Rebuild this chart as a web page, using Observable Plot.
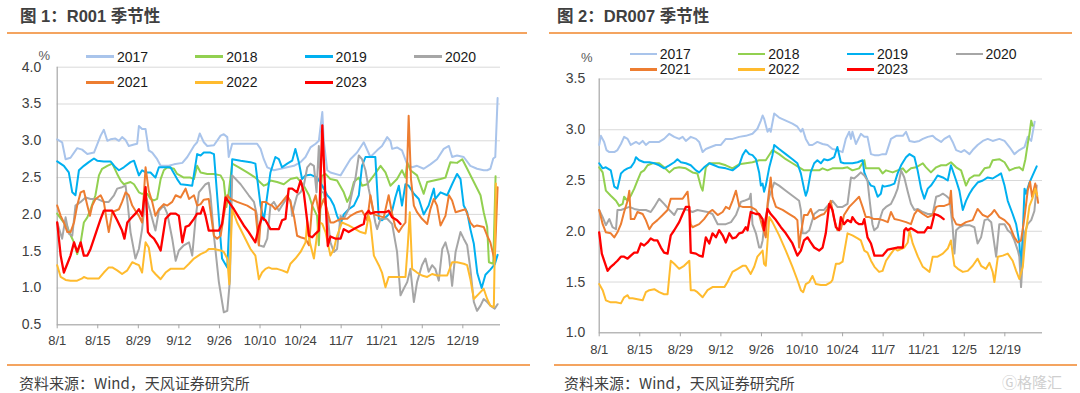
<!DOCTYPE html>
<html><head><meta charset="utf-8">
<script src="https://cdn.jsdelivr.net/npm/d3@7"></script>
<script src="https://cdn.jsdelivr.net/npm/@observablehq/plot@0.6"></script>
<style>
body{margin:0;background:#fff;}
#root{position:relative;width:1080px;height:393px;overflow:hidden;background:#fff;font-family:"Liberation Sans",Arial,"Noto Sans CJK SC",sans-serif;}
.title{position:absolute;top:5px;font-size:16.5px;font-weight:bold;color:#404040;line-height:22px;white-space:nowrap;font-family:"Liberation Sans",Arial,"Noto Sans CJK SC",sans-serif;}
.rule{position:absolute;height:2px;background:#f4a460;}
.foot{position:absolute;top:374px;font-size:15px;color:#404040;line-height:18px;white-space:nowrap;font-family:"Noto Sans CJK SC","Liberation Sans",sans-serif;}
.panel{position:absolute;top:0;}
.sw{position:absolute;height:2.5px;}
.lt{position:absolute;font-size:14px;color:#1a1a1a;line-height:16px;}
.pct{position:absolute;font-size:13px;color:#595959;line-height:14px;}
.wm{position:absolute;left:1002px;top:373px;font-size:15px;color:#cfcfcf;font-family:"Noto Sans CJK SC",sans-serif;line-height:18px;}
</style></head>
<body><div id="root"></div>
<script>
// ---------- data ----------
const xTickDays = [0,14,28,42,56,70,84,98,112,126,140];
const xTickLabels = ["8/1","8/15","8/29","9/12","9/26","10/10","10/24","11/7","11/21","12/5","12/19"];
const years = ["2017","2018","2019","2020","2021","2022","2023"];
const yearColors = ["#a9c4eb","#92d050","#00b0f0","#a6a6a6","#ed7d31","#ffbb2e","#ff0000"];
const r001Ticks = [0.5,1.0,1.5,2.0,2.5,3.0,3.5,4.0];
const dr007Ticks = [1.0,1.5,2.0,2.5,3.0,3.5];

// R001 (day offset from 8/1, %)
const r001_2017 = [[0,3.02],[1.7,2.98],[2.9,2.75],[4.6,2.77],[6.9,2.9],[8.6,2.88],[10.4,2.82],[12.7,2.84],[15,3.07],[16.1,3.15],[17.3,3.0],[18.4,3.02],[20.1,3.03],[21.3,3.0],[22.4,3.05],[23.6,3.01],[24.7,2.93],[26.5,2.95],[27.6,2.96],[28.2,3.2],[29.3,3.16],[30.5,3.16],[31.6,2.87],[32.8,2.84],[34.5,2.75],[35.7,2.66],[38.5,2.66],[40.3,2.68],[43.2,2.7],[44.9,2.78],[47.2,2.93],[48.3,2.98],[49.2,3.1],[50.6,2.98],[51.8,2.93],[54.1,2.94],[56.4,3.07],[57.5,3.09],[58.7,3.05],[59.2,2.78],[60.4,2.96],[62.7,2.96],[69,2.96],[70.2,2.89],[71.3,2.75],[72.5,2.64],[74.8,2.6],[77.1,2.62],[79.4,2.64],[81.7,2.66],[84,2.71],[85.7,2.78],[87.4,2.91],[89.2,2.96],[90.3,3.0],[91.5,3.39],[92,3.0],[93.2,2.6],[94.3,2.57],[97.8,2.53],[101.2,2.75],[103.5,2.84],[105.8,2.98],[108.1,2.78],[110.4,2.87],[112.1,2.93],[113.9,3.05],[115,3.0],[115.6,2.89],[117.3,2.91],[119,2.87],[120.8,2.68],[122.5,2.64],[124.2,2.66],[126.5,2.62],[128.8,2.68],[131.1,2.75],[133.4,2.89],[135.2,2.93],[136.3,2.78],[138,2.8],[140.3,2.78],[142.6,2.66],[144.9,2.62],[147.2,2.6],[148.4,2.6],[149.5,2.62],[150.5,2.76],[151.2,2.78],[152,3.58]];
const r001_2018 = [[0,2.01],[1.7,1.92],[3.5,1.83],[4.6,1.72],[5.8,1.62],[6.9,1.46],[8.1,1.62],[9.2,1.89],[10.4,1.96],[11.5,2.07],[13.2,2.26],[14.4,2.53],[15.5,2.62],[17.3,2.66],[19,2.69],[20.7,2.55],[21.9,2.46],[23,2.41],[25.3,2.44],[26.5,2.41],[28.2,2.3],[29.3,2.28],[31.1,2.28],[32.2,2.21],[33.4,2.19],[34.5,2.21],[35.7,2.48],[36.8,2.6],[38,2.64],[40.3,2.62],[41.4,2.55],[43.7,2.5],[46,2.5],[47.2,2.48],[48.3,2.66],[49.5,2.57],[51.8,2.55],[54.1,2.55],[56.4,2.53],[57.5,2.45],[58.4,2.1],[59.2,2.3],[60.4,2.69],[62.7,2.64],[65.6,2.57],[68.4,2.5],[70.2,2.43],[71.3,2.39],[72.5,2.41],[73.6,2.46],[75.9,2.44],[78.2,2.41],[80.5,2.48],[82.8,2.5],[85.1,2.39],[86.9,2.26],[88,2.12],[89.7,1.98],[90.3,1.58],[91.3,2.52],[92.6,2.55],[94.3,2.48],[96.6,2.46],[98.9,2.3],[100.1,2.17],[101.2,2.26],[102.4,2.44],[104.1,2.5],[105.2,2.39],[107,2.41],[109.3,2.53],[111.6,2.66],[113.3,2.57],[115,2.39],[117.3,2.48],[119,2.6],[120.2,2.5],[120.8,2.71],[121.9,2.6],[124.2,2.53],[126.5,2.28],[127.7,2.44],[130,2.46],[132.3,2.48],[134,2.5],[135.7,2.71],[138,2.7],[139.8,2.75],[141.5,2.62],[143.8,2.44],[146.1,2.26],[147.2,2.03],[148.4,1.83],[149,1.35],[150.5,1.33],[151.3,2.52]];
const r001_2019 = [[0,2.72],[2.3,2.66],[4,2.57],[5.2,2.3],[6.3,2.26],[7.5,2.6],[9.2,2.66],[10.9,2.71],[12.7,2.76],[13.8,2.73],[16.1,2.72],[18.4,2.72],[20.1,2.64],[21.3,2.6],[23,2.64],[25.3,2.71],[26.5,2.73],[28.2,2.53],[29.3,2.6],[30.5,2.57],[32.2,2.57],[33.9,2.5],[35.1,2.64],[36.8,2.64],[39.1,2.64],[41.4,2.48],[42.6,2.41],[44.9,2.4],[46.6,2.39],[48.3,2.82],[49.5,2.8],[50.6,2.84],[52.9,2.84],[54.1,2.82],[55.2,2.26],[56.9,1.4],[58.7,1.28],[60.4,2.75],[63.3,2.73],[66.7,2.71],[68.4,2.69],[70.2,2.12],[71.3,1.92],[72.5,2.26],[73.6,2.57],[75.3,2.78],[76.5,2.75],[77.6,2.64],[79.4,2.69],[81.1,2.73],[82.2,2.89],[83.4,2.71],[84.5,2.48],[85.7,2.53],[87.4,2.54],[89.7,2.5],[91.5,2.39],[93.2,2.26],[94.3,2.21],[95.5,2.12],[96.6,1.98],[97.8,1.87],[98.9,2.0],[100.6,2.07],[102.4,2.12],[104.1,2.26],[105.2,2.66],[106.4,2.78],[108.7,2.78],[109.8,2.78],[111,1.94],[112.1,1.92],[113.9,1.98],[115.6,2.05],[116.7,2.23],[117.9,2.39],[119,2.12],[120.2,2.41],[121.3,2.39],[123.1,2.28],[124.8,2.21],[126.5,2.0],[128.2,2.12],[130,2.35],[130.5,2.21],[132.3,2.3],[134.6,2.26],[136.3,2.41],[138,2.55],[139.2,2.48],[140.3,2.12],[141.5,2.03],[142.6,1.8],[143.8,1.6],[145,1.2],[146.5,1.0],[147.8,1.18],[149.5,1.25],[151,1.32],[152,1.45]];
const r001_2020 = [[0,1.89],[1.7,1.67],[2.9,1.96],[4,1.74],[5.2,1.71],[6.3,2.12],[8.1,2.17],[9.8,2.23],[11.5,2.21],[13.8,2.21],[16.1,2.17],[17.8,2.17],[19.6,2.26],[20.7,2.35],[22.4,2.37],[23.6,2.39],[24.4,2.12],[25.3,1.76],[27,1.4],[28.2,1.53],[29.3,1.8],[30.5,2.26],[32.2,2.03],[33.9,1.78],[35.1,2.05],[36.8,2.12],[38,2.01],[39.7,1.67],[40.9,1.37],[42,1.51],[43.7,1.58],[45.5,1.62],[46.6,1.44],[47.8,1.96],[48.9,2.3],[51.2,2.41],[52.3,2.43],[52.9,2.26],[54.1,1.71],[55.8,1.08],[57.5,0.67],[58.7,0.69],[59.6,1.1],[60.4,2.53],[63.3,2.41],[66.1,2.26],[67.9,2.17],[69,1.98],[69.6,1.58],[71.3,1.56],[72.5,1.67],[73.6,2.12],[74.8,2.17],[76.5,2.05],[77.6,2.12],[79.4,2.23],[80.5,2.19],[81.1,1.98],[81.7,2.1],[82.8,2.26],[84,2.3],[85.1,2.39],[86.3,2.64],[87.4,2.69],[88.6,2.66],[89.5,2.3],[90.3,2.93],[91,2.3],[92,2.3],[93.2,2.03],[94.3,1.62],[95.5,1.49],[96.6,1.53],[97.8,1.98],[98.9,1.94],[100.6,2.07],[101.8,2.3],[102.9,2.48],[104.1,2.8],[105.2,2.75],[106.4,2.6],[107.5,2.35],[108.7,2.12],[109.8,1.89],[110.4,1.8],[111.6,1.94],[113.9,1.94],[115.6,1.87],[117.3,1.49],[118.5,0.9],[119.6,0.99],[120.8,1.08],[121.9,1.26],[123.1,0.81],[124.2,1.08],[125.9,1.31],[127.1,1.4],[128.2,1.22],[129.4,1.31],[130.5,1.26],[131.7,1.1],[132.9,1.53],[134,1.62],[135.2,1.44],[136.3,1.03],[137.5,1.49],[139.2,1.76],[140.3,1.67],[141.5,1.58],[142.6,1.26],[143.8,0.81],[144.9,0.69],[146.1,0.76],[147.2,0.85],[148.4,0.81],[149.5,0.76],[151,0.72],[152,0.78]];
const r001_2021 = [[0,2.12],[1.2,1.98],[2.3,1.89],[3.5,1.76],[4.6,1.76],[5.8,1.89],[6.9,2.12],[8.1,2.3],[9.2,2.32],[10.4,2.12],[11.3,1.98],[12.1,2.12],[13.2,2.21],[15,2.26],[16.1,2.17],[17,1.94],[17.8,1.76],[19,2.03],[20.1,2.05],[21.3,2.07],[22.4,2.17],[23.6,2.3],[24.7,2.26],[25.9,2.12],[27,2.05],[28.2,1.98],[29.3,1.89],[30.5,2.64],[31.6,2.32],[32.8,2.17],[33.9,1.98],[35.1,2.07],[36.8,2.14],[38,2.12],[39.7,2.17],[40.9,2.26],[42.6,2.23],[44.3,2.35],[45.5,2.21],[47.2,2.26],[48.3,2.12],[49.5,2.14],[50.6,2.2],[52.3,2.21],[54.1,1.71],[55.2,1.67],[56.4,1.71],[57.5,1.98],[58.7,2.26],[59.8,2.21],[62.1,2.17],[65.6,2.12],[68.4,2.05],[69.6,1.58],[70.7,2.17],[71.9,2.17],[73,2.14],[74.2,2.12],[75.3,2.07],[76.5,2.12],[77.6,2.17],[79.4,2.26],[80.5,2.17],[81.7,1.98],[82.8,1.71],[84,1.69],[85.7,1.67],[86.9,1.58],[88,2.12],[89.2,2.26],[90.3,2.03],[92,2.21],[93.2,2.05],[94.3,1.89],[95.5,1.89],[97.8,1.94],[100.1,1.94],[101.2,1.98],[103.5,2.03],[105.2,2.05],[107,1.92],[108.1,2.26],[109.3,2.0],[111,1.98],[112.7,1.96],[114.4,2.26],[115.6,2.01],[116.7,1.83],[117.9,1.76],[119,1.83],[120.2,1.89],[121.3,3.34],[122.1,2.48],[123.1,2.12],[124.2,2.03],[125.9,1.94],[127.7,1.87],[128.8,2.07],[130,2.21],[131.1,2.12],[132.3,1.85],[134,1.98],[135.2,2.26],[136.3,2.19],[137.5,2.03],[139.2,2.05],[140.9,2.07],[142.6,1.89],[143.8,1.83],[144.9,1.85],[147.2,1.83],[148.4,1.71],[149.5,1.62],[151,1.37],[152,2.37]];
const r001_2022 = [[0,1.31],[1.2,1.15],[2.9,1.11],[4.6,1.1],[6.9,1.1],[8.6,1.13],[9.2,1.15],[10.4,1.13],[12.7,1.13],[14.4,1.13],[16.1,1.21],[17.8,1.28],[19,1.28],[20.7,1.24],[22.4,1.19],[24.2,1.24],[25.9,1.35],[27,1.33],[28.2,1.31],[29.3,1.21],[30.5,1.62],[31.6,1.55],[32.8,1.24],[33.9,1.19],[35.7,1.12],[37.4,1.21],[39.1,1.26],[41.4,1.26],[43.7,1.26],[45.5,1.33],[47.2,1.4],[49.5,1.46],[51.2,1.49],[52.3,1.53],[54.1,1.53],[56.4,1.51],[57.5,1.49],[58.7,1.4],[59.4,1.05],[60.4,2.07],[62.1,1.89],[64.4,1.71],[66.7,1.53],[68.4,1.44],[69.6,1.12],[70.7,1.21],[71.9,1.26],[73,1.28],[74.2,1.26],[75.9,1.26],[77.6,1.24],[79.4,1.21],[80.5,1.33],[82.2,1.4],[84,1.49],[85.7,1.62],[86.3,1.9],[86.9,1.67],[88.6,1.4],[90.3,1.9],[91.5,1.87],[92.6,1.76],[94.3,1.44],[95.5,1.53],[96.5,1.7],[98.3,1.89],[100.6,1.85],[102.9,1.8],[104.7,1.76],[106.4,1.74],[107.5,1.98],[108.1,1.89],[109.3,1.44],[111,1.31],[112.1,1.21],[113.3,1.01],[114.4,1.15],[116.2,1.15],[118.5,1.15],[120.2,1.15],[121,1.58],[121.7,2.03],[122.5,1.26],[124.2,1.21],[125.9,1.17],[127.7,1.15],[129.4,1.19],[131.1,1.17],[132.9,1.17],[134.6,1.17],[136.3,1.35],[138,1.35],[140.3,1.33],[141.5,1.31],[142.6,1.12],[143.8,0.85],[145.5,0.92],[147.2,0.99],[148.4,0.85],[149.5,0.76],[150.7,0.74],[151.4,2.42]];
const r001_2023 = [[0,1.89],[1.2,1.44],[2.3,1.21],[3.5,1.33],[4.6,1.44],[5.8,1.62],[6.9,1.49],[8.1,1.62],[9.2,1.44],[10.4,1.44],[11.5,1.53],[12.7,1.67],[13.8,1.8],[15,1.94],[16.1,2.05],[17.3,2.05],[19,2.05],[20.7,1.92],[22.4,1.78],[23.2,1.67],[24.2,1.89],[25.3,1.94],[27,2.01],[28.2,2.07],[29.3,1.98],[30.5,2.37],[31.3,1.76],[32.2,1.71],[33.4,1.67],[34.5,1.6],[35.7,1.51],[37.4,1.94],[39.1,2.01],[40.9,2.01],[42,1.98],[43.2,1.62],[44.3,1.83],[45.5,1.85],[47.2,1.94],[48.3,2.01],[49.5,2.01],[50.3,2.1],[51.2,1.98],[52.3,1.78],[54.1,1.78],[55.8,1.78],[56.9,1.87],[58.1,2.23],[59.2,2.17],[61,2.07],[62.7,1.96],[64.4,1.85],[66.1,1.76],[68.4,1.62],[69.6,1.83],[70.7,1.96],[71.9,1.92],[73.6,1.8],[75.3,1.8],[76.5,1.8],[77.6,1.92],[78.8,1.94],[79.9,2.35],[81.1,2.35],[82.8,2.3],[84,2.46],[85.1,2.3],[86.9,1.71],[88,1.69],[89.2,1.74],[90.3,1.78],[91.5,3.21],[92.6,2.21],[93.4,1.57],[94.3,1.7],[96.1,1.67],[97.8,1.67],[98.9,1.8],[100.6,1.76],[102.4,1.8],[104.7,1.85],[105.8,1.87],[106.4,2.0],[107.5,2.05],[108.1,2.01],[109.8,2.03],[111.6,2.03],[113.3,2.03],[114.4,2.05],[115.6,1.96],[117.3,1.92],[118.5,1.87]];

// DR007 (day offset from 8/1, %)
const dr007_2017 = [[0,2.85],[0.6,2.94],[1.7,2.88],[2.5,2.8],[3.5,2.78],[5.2,2.78],[6.3,2.8],[7.5,2.86],[8.6,2.93],[9.8,2.91],[10.9,2.85],[12.7,2.88],[13.8,2.86],[15,2.89],[16.1,2.85],[17.3,2.88],[18.4,2.88],[20.7,2.88],[22.4,2.91],[24.2,2.96],[25.9,2.93],[27.6,2.91],[28.8,2.93],[29.9,2.89],[31.6,2.93],[33.4,2.91],[34.5,2.88],[35.7,2.78],[36.8,2.81],[38.5,2.83],[40.3,2.85],[42,2.85],[43.7,2.91],[46,2.91],[48.3,2.93],[50.6,2.94],[52.9,2.96],[54.6,3.01],[55.8,3.09],[56.4,3.14],[56.9,3.11],[58.1,2.98],[58.7,3.01],[59.2,2.98],[60.4,3.16],[62.1,3.12],[64.4,3.09],[66.7,3.06],[68.4,3.03],[69.6,2.98],[70.2,3.01],[71.3,2.91],[72.5,2.85],[73.6,2.85],[75.3,2.88],[77.1,2.86],[78.8,2.85],[80.5,2.81],[82.2,2.8],[84,2.78],[85.1,2.91],[86.3,2.98],[86.9,2.91],[87.4,2.98],[88.6,2.86],[90.3,2.96],[91.5,2.93],[92.6,2.93],[93.8,2.76],[95,2.75],[96.6,2.75],[97.8,2.76],[99,2.76],[100.7,2.91],[102.5,2.94],[104.8,2.94],[105.9,2.98],[107.1,2.89],[108.8,2.88],[110.5,2.89],[111.7,2.91],[113.4,2.93],[115.1,2.94],[116.3,2.91],[118,2.88],[119.1,2.91],[120.9,2.94],[122,2.88],[123.2,2.8],[124.9,2.78],[126,2.8],[127.8,2.76],[128.9,2.8],[130.6,2.85],[132.4,2.89],[134.1,2.91],[135.8,2.89],[138.1,2.91],[139.9,2.89],[141.6,2.83],[143.3,2.76],[145,2.8],[146.8,2.83],[147.9,2.93],[149.1,2.89],[150.3,3.08]];
const dr007_2018 = [[0,2.63],[1.2,2.58],[2.3,2.4],[4,2.35],[5.8,2.3],[6.9,2.25],[8.1,2.27],[8.6,2.34],[9.8,2.3],[10.9,2.35],[12.1,2.42],[13.2,2.5],[14.4,2.58],[15.5,2.6],[16.7,2.65],[18.4,2.67],[20.7,2.67],[22.4,2.63],[24.2,2.58],[25.9,2.62],[27.6,2.63],[29.9,2.62],[32.2,2.58],[33.9,2.57],[35.1,2.44],[35.7,2.4],[36.8,2.63],[38,2.67],[41.4,2.67],[43.7,2.65],[46,2.62],[48.3,2.66],[50.6,2.67],[52.9,2.68],[55.2,2.7],[57.5,2.7],[59.8,2.8],[62.1,2.76],[64.4,2.71],[66.7,2.67],[69,2.63],[70.7,2.6],[73,2.6],[75.9,2.6],[77.1,2.62],[78.8,2.6],[80.5,2.62],[84,2.62],[85.7,2.63],[87.4,2.6],[89.7,2.62],[91.5,2.7],[92,2.62],[94.9,2.62],[96.6,2.62],[97.8,2.57],[99,2.6],[101.3,2.58],[103,2.6],[104.8,2.62],[105.9,2.58],[107.6,2.62],[109.4,2.63],[111.7,2.67],[112.8,2.63],[114.5,2.58],[116.3,2.63],[118,2.65],[119.7,2.65],[121.4,2.68],[123.2,2.63],[124.9,2.6],[126.6,2.45],[127.8,2.52],[129.5,2.55],[131.2,2.55],[133,2.62],[134.7,2.63],[135.8,2.7],[138.1,2.71],[139.9,2.68],[141.6,2.6],[143.3,2.62],[145,2.63],[146.2,2.6],[147.1,2.71],[147.9,2.86],[148.5,2.96],[149.1,3.09],[149.6,3.04]];
const dr007_2019 = [[0,2.67],[1.2,2.62],[2.3,2.63],[4,2.6],[5.2,2.44],[6.3,2.42],[7.5,2.57],[8.6,2.6],[9.8,2.62],[10.9,2.63],[12.1,2.68],[12.7,2.73],[13.8,2.7],[15.5,2.68],[17.3,2.68],[19,2.67],[20.7,2.65],[22.4,2.62],[24.2,2.65],[25.9,2.68],[27,2.71],[28.2,2.68],[29.9,2.67],[31.6,2.65],[33.4,2.6],[34.5,2.58],[36.2,2.63],[38,2.67],[39.7,2.65],[41.4,2.63],[43.7,2.62],[46,2.6],[48.3,2.65],[49.5,2.75],[50.6,2.8],[51.8,2.76],[52.9,2.75],[54.1,2.71],[55.2,2.58],[55.8,2.45],[56.4,2.47],[56.9,2.39],[57.5,2.45],[58.7,2.63],[59.8,2.75],[60.4,2.85],[62.1,2.81],[64.4,2.76],[66.7,2.71],[68.4,2.67],[69.6,2.57],[70.7,2.42],[71.3,2.35],[71.9,2.4],[73,2.58],[74.2,2.67],[75.3,2.7],[76.5,2.67],[77.6,2.71],[78.8,2.7],[79.9,2.71],[81.1,2.73],[82.2,2.83],[83.4,2.68],[84.5,2.67],[87.4,2.67],[89.2,2.68],[90.9,2.7],[91.5,2.58],[92.6,2.5],[93.8,2.45],[94.9,2.44],[96.1,2.34],[97.2,2.37],[97.8,2.45],[98.4,2.44],[100.2,2.45],[101.9,2.47],[103,2.57],[104.2,2.65],[105.9,2.73],[107.1,2.76],[108.8,2.73],[109.9,2.6],[111.1,2.42],[112.2,2.32],[113.4,2.42],[114.5,2.45],[115.7,2.5],[116.8,2.55],[118.6,2.53],[120.3,2.5],[121.4,2.65],[123.2,2.5],[124.3,2.4],[125.5,2.21],[126.6,2.3],[127.8,2.37],[128.9,2.42],[130.6,2.48],[132.4,2.5],[134.1,2.53],[135.8,2.52],[137.6,2.55],[138.7,2.57],[139.9,2.45],[141,2.3],[142.7,2.17],[143.9,2.07],[145,1.89],[145.6,1.63],[146.2,1.98],[146.8,2.42],[147.3,2.37],[148.5,2.48],[149.6,2.55],[151,2.64]];
const dr007_2020 = [[0,2.21],[1.2,2.14],[2.3,2.06],[3.5,2.12],[4.6,2.04],[5.8,2.02],[6.3,2.21],[7.5,2.21],[10.4,2.24],[12.1,2.22],[13.8,2.21],[16.1,2.21],[17.8,2.19],[19,2.24],[20.7,2.32],[22.4,2.27],[24.2,2.21],[25.9,2.16],[27,2.22],[28.8,2.22],[30.5,2.21],[32.2,2.19],[33.9,2.21],[37.4,2.19],[39.1,2.17],[40.9,2.07],[42,2.07],[43.7,2.07],[45.5,2.09],[47.2,2.16],[48.9,2.29],[50,2.3],[51.8,2.32],[52.3,2.37],[52.9,2.07],[54.1,1.98],[55.2,1.84],[55.8,1.84],[56.4,1.91],[56.9,2.04],[58.1,2.24],[58.7,2.34],[60.4,2.48],[62.1,2.45],[64.4,2.4],[66.7,2.35],[69,2.3],[69.6,2.21],[70.2,1.98],[71.3,1.98],[72.5,2.01],[74.2,2.17],[75.9,2.21],[77.6,2.21],[79.4,2.27],[80.5,2.3],[82.2,2.24],[84,2.24],[85.7,2.27],[86.9,2.53],[88,2.52],[89.2,2.55],[90.3,2.58],[91.5,2.55],[92.6,2.5],[93.2,2.34],[94.3,2.07],[94.9,2.01],[96.1,2.04],[97.2,2.15],[97.9,2.21],[99,2.24],[100.7,2.27],[101.9,2.34],[103,2.42],[104.2,2.6],[105.3,2.53],[106.5,2.39],[107.6,2.27],[108.8,2.21],[109.9,2.22],[111.7,2.19],[113.4,2.17],[115.1,2.17],[116.3,2.34],[117.4,2.35],[118.6,2.37],[119.7,2.35],[120.9,2.32],[122,2.04],[122.6,1.78],[123.2,2.01],[124.3,2.04],[126,2.06],[127.8,2.06],[129.5,2.04],[130.6,1.88],[131.8,1.94],[133,2.11],[134.1,2.12],[135.3,2.09],[137,1.75],[138.1,2.07],[139.9,2.07],[141,2.01],[142.2,1.98],[143.3,1.91],[144.5,1.81],[145,1.75],[145.6,1.45],[146.2,1.73],[146.8,1.98],[147.9,2.07],[149.1,2.11],[150.2,2.2],[151,2.45]];
const dr007_2021 = [[0,2.21],[1.2,2.07],[2.3,1.99],[4,1.98],[5.2,1.94],[6.3,1.99],[7.5,2.07],[8.6,2.19],[9.8,2.3],[10.4,2.4],[10.9,2.12],[12.1,2.12],[13.2,2.19],[15,2.17],[16.1,2.11],[17.3,2.02],[18.4,2.07],[20.1,2.11],[21.9,2.16],[23.6,2.21],[24.7,2.32],[26.5,2.32],[28.8,2.32],[30.5,2.39],[31.6,2.07],[32.2,2.04],[34.5,2.07],[36.2,2.12],[38,2.19],[39.1,2.21],[40.9,2.16],[42.6,2.19],[43.7,2.24],[44.9,2.22],[46,2.3],[47.2,2.4],[48.3,2.25],[49.5,2.24],[52.3,2.24],[54.1,2.21],[55.2,2.16],[56.4,2.04],[57.5,1.94],[58.1,2.27],[59.2,2.53],[59.8,2.34],[61,2.24],[63.3,2.21],[65.6,2.17],[67.3,2.14],[68.4,2.11],[69,1.84],[69.6,1.98],[70.7,2.16],[71.9,2.16],[73,2.22],[74.2,2.12],[75.3,2.14],[76.5,2.16],[77.6,2.17],[78.8,2.22],[79.9,2.3],[81.1,2.12],[82.2,2.01],[83.4,2.02],[84.5,2.16],[86.3,2.24],[88,2.29],[89.7,2.34],[90.9,2.24],[92,2.14],[93.2,2.14],[94.9,2.12],[96.6,2.12],[97.9,2.11],[99.6,2.09],[100.7,2.19],[101.9,2.12],[103.6,2.11],[105.9,2.09],[107.6,2.07],[108.8,2.17],[109.9,2.21],[111.7,2.17],[113.4,2.14],[115.1,2.16],[116.3,2.24],[117.4,2.25],[119.1,2.25],[120.9,2.27],[121.4,2.4],[122,2.14],[123.2,2.07],[124.9,2.06],[126.6,2.09],[128.9,2.11],[130.6,2.22],[132.4,2.16],[134.1,2.14],[135.3,2.17],[136.4,2.21],[138.1,2.14],[139.9,2.11],[141.6,2.06],[143.3,1.94],[144.5,1.89],[145.6,1.91],[146.8,2.14],[147.9,2.4],[148.7,2.49],[149.4,2.34],[150.5,2.47],[151.5,2.28]];
const dr007_2022 = [[0,1.48],[1.2,1.42],[2.3,1.32],[4,1.3],[5.8,1.3],[7.5,1.29],[8.6,1.35],[9.8,1.37],[10.4,1.34],[11.5,1.34],[13.2,1.33],[15,1.32],[16.1,1.4],[17.3,1.42],[19,1.43],[20.7,1.4],[22.4,1.38],[23.6,1.38],[24.7,1.71],[25.9,1.68],[27.6,1.63],[29.3,1.66],[31.1,1.71],[31.6,1.42],[32.8,1.42],[33.9,1.4],[35.7,1.35],[37.4,1.42],[39.1,1.45],[41.4,1.45],[43.2,1.45],[44.3,1.5],[46,1.6],[47.8,1.63],[49.5,1.66],[50.6,1.66],[52.3,1.58],[53.5,1.65],[54.6,1.75],[56.4,1.81],[56.9,1.68],[57.5,1.66],[58.7,2.14],[59.8,2.09],[62.1,1.96],[64.4,1.81],[66.7,1.65],[68.4,1.52],[69.6,1.42],[70.4,1.4],[71.3,1.48],[72.5,1.5],[73.6,1.56],[74.8,1.48],[76.5,1.47],[78.2,1.47],[80,1.5],[80.5,1.52],[81.7,1.68],[82.8,1.68],[84,1.7],[85.7,1.98],[87.4,1.96],[89.2,1.93],[90.3,1.91],[91.5,1.81],[92.6,1.79],[93.8,1.71],[95,1.65],[96.6,1.6],[97.8,1.61],[99,1.71],[100.7,1.78],[102,1.83],[103,1.81],[105.3,1.84],[106.5,1.89],[107.1,2.01],[108.2,1.88],[110,1.75],[111.7,1.65],[114,1.6],[115.1,1.75],[116.8,1.75],[118.6,1.78],[120.3,1.83],[121.4,1.91],[122,1.78],[122.6,1.66],[123.8,1.63],[125.5,1.6],[127.2,1.61],[128.9,1.66],[130.6,1.73],[131.8,1.66],[133.5,1.63],[134.7,1.69],[135.8,1.6],[136.4,1.5],[137.6,1.75],[139.3,1.76],[141,1.78],[142.7,1.71],[143.9,1.61],[145,1.53],[146.2,1.65],[147.3,2.0],[148.5,2.25],[149.6,2.33],[150.5,2.42],[151.2,2.35]];
const dr007_2023 = [[0,1.99],[0.9,1.78],[1.7,1.71],[2.9,1.61],[4,1.65],[5.2,1.68],[6.3,1.71],[7.5,1.75],[8.6,1.75],[9.8,1.73],[10.9,1.76],[12.1,1.79],[13.2,1.79],[14.4,1.88],[15.5,1.86],[16.7,1.89],[17.8,1.93],[19,1.91],[20.1,1.91],[21.3,1.84],[22.4,1.79],[23.6,1.78],[24.7,1.96],[25.9,2.01],[27.6,2.09],[28.8,2.17],[29.9,2.24],[31.1,2.24],[31.6,1.79],[33.4,1.78],[34.5,1.76],[35.7,1.75],[36.8,1.94],[38,1.88],[39.1,1.98],[40.3,1.94],[41.4,2.01],[42.6,1.96],[43.7,1.89],[44.9,1.98],[46,1.93],[47.2,1.94],[48.3,1.98],[49.5,1.99],[50.6,2.04],[51.2,2.01],[52.3,2.19],[54.1,2.17],[55.2,2.17],[56.4,2.12],[56.9,2.01],[58.1,2.22],[59.2,2.17],[61,2.11],[62.7,2.04],[64.4,1.98],[66.7,1.88],[68.4,1.76],[69.6,1.81],[70.7,1.91],[71.9,1.94],[73,1.89],[74.2,1.84],[75.9,1.81],[77.1,1.84],[78.2,1.98],[79.4,2.27],[80.5,2.21],[81.7,2.04],[82.8,2.01],[83.4,2.14],[84.5,2.07],[85.7,2.11],[86.9,2.09],[87.4,2.14],[88.6,2.09],[89.7,2.07],[90.9,2.07],[91.5,2.12],[92.6,1.94],[93.8,1.88],[95,1.76],[96.6,1.76],[97.8,1.76],[99.6,1.82],[101.2,1.83],[102.9,1.84],[104.8,1.84],[105.3,2.01],[105.9,2.03],[106.5,2.01],[107.6,2.03],[108.8,2.01],[109.9,1.99],[111.1,1.99],[112.2,1.99],[113.4,2.04],[114.5,2.03],[115.7,2.17],[116.8,2.16],[118,2.14],[118.9,2.12]];

const r001Series = [r001_2017, r001_2018, r001_2019, r001_2020, r001_2021, r001_2022, r001_2023];
const dr007Series = [dr007_2017, dr007_2018, dr007_2019, dr007_2020, dr007_2021, dr007_2022, dr007_2023];

// ---------- drawing ----------
const root = document.getElementById("root");
function el(tag, cls, style, text) {
  const e = document.createElement(tag);
  if (cls) e.className = cls;
  Object.assign(e.style, style || {});
  if (text != null) e.textContent = text;
  root.appendChild(e);
  return e;
}

function makeChart(series, yTicks, cfg) {
  const rows = [];
  series.forEach((s, i) => s.forEach(([d, v]) => rows.push({year: years[i], day: d, value: v})));
  const lines = years.map((y, i) => Plot.line(rows.filter(r => r.year === y), {
    x: "day", y: "value", stroke: yearColors[i],
    strokeWidth: y === "2023" ? 2.3 : 2, strokeLinejoin: "round", strokeLinecap: "round"
  }));
  return Plot.plot({
    width: 540, height: cfg.height,
    marginTop: cfg.mt, marginBottom: cfg.height - cfg.bottom, marginLeft: cfg.ml, marginRight: cfg.mr,
    style: {fontFamily: "Liberation Sans, Arial, sans-serif", fontSize: "13px", color: "#404040", background: "transparent"},
    x: {domain: [0, 153], label: null},
    y: {domain: [yTicks[0], yTicks[yTicks.length - 1]], label: null},
    marks: [
      Plot.gridY(yTicks, {stroke: "#d9d9d9", strokeOpacity: 1, strokeWidth: 1}),
      Plot.ruleY([yTicks[0]], {stroke: "#a6a6a6", strokeWidth: 1}),
      Plot.ruleX([0], {stroke: "#a6a6a6", strokeWidth: 1.2}),
      Plot.axisY(yTicks, {tickSize: 0, tickPadding: cfg.yPad, tickFormat: d => d.toFixed(1), fontSize: 14, fill: "#404040", label: null}),
      Plot.axisX(xTickDays, {tickSize: 4, tickPadding: cfg.xPad, stroke: "#a6a6a6", label: null,
        tickFormat: d => xTickLabels[xTickDays.indexOf(d)], fontSize: 13, fill: "#404040"}),
      ...lines
    ]
  });
}

const p1 = el("div", "panel", {left: "0px"});
p1.appendChild(makeChart(r001Series, r001Ticks, {height: 355, mt: 66.7, bottom: 324.3, ml: 56.7, mr: 40, yPad: 16, xPad: 7}));
const p2 = el("div", "panel", {left: "540px"});
p2.appendChild(makeChart(dr007Series, dr007Ticks, {height: 363, mt: 78.5, bottom: 332.3, ml: 58.7, mr: 38, yPad: 14, xPad: 8}));

// titles and rules
el("div", "title", {left: "20px"}, "图 1：R001 季节性");
el("div", "title", {left: "557px"}, "图 2：DR007 季节性");
el("div", "rule", {left: "7px", width: "520px", top: "32px"});
el("div", "rule", {left: "549px", width: "523px", top: "32px"});
el("div", "rule", {left: "7px", width: "523px", top: "363.5px"});
el("div", "rule", {left: "554px", width: "523px", top: "363.5px"});
el("div", "foot", {left: "19px"}, "资料来源：Wind，天风证券研究所");
el("div", "foot", {left: "564px"}, "资料来源：Wind，天风证券研究所");
el("div", "wm", {}, "Ⓖ格隆汇");

// legends
function legend(x0, dx, rowsY, lineLen, textGap) {
  years.forEach((y, i) => {
    const col = i % 4, row = Math.floor(i / 4);
    const lx = x0 + col * dx, cy = rowsY[row];
    el("div", "sw", {left: lx + "px", top: (cy - 1.25) + "px", width: lineLen + "px", background: yearColors[i]});
    el("div", "lt", {left: (lx + lineLen + textGap) + "px", top: (cy - 8) + "px"}, y);
  });
}
legend(86, 109.3, [56.5, 82.4], 28, 3);
legend(629.7, 108.6, [53.8, 69.3], 27, 3);
el("div", "pct", {left: "38.5px", top: "49px"}, "%");
el("div", "pct", {left: "581px", top: "51px"}, "%");
</script>
</body></html>
